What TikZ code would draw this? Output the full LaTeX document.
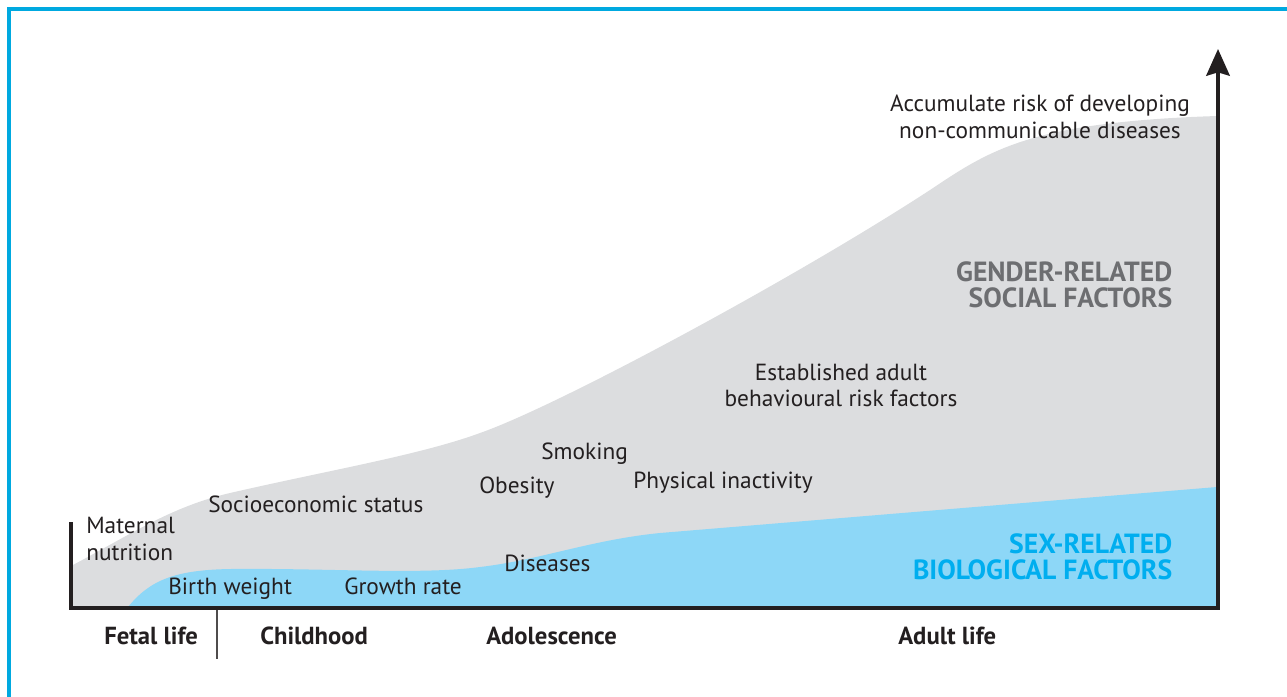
\documentclass[tikz,border=0pt]{standalone}
\usepackage{fontspec}
\setmainfont{PT Sans}
\usetikzlibrary{arrows.meta}
\definecolor{frameblue}{HTML}{00A9E0}
\definecolor{greyfill}{HTML}{DCDDDF}
\definecolor{bluefill}{HTML}{8DD7F7}
\definecolor{bluetext}{HTML}{00AEEF}
\definecolor{greytext}{HTML}{6D6E71}
\definecolor{ink}{HTML}{231F20}
\tikzset{
  lbl/.style={inner sep=0pt, text=ink, font=\fontsize{17.5}{20}\selectfont},
  stage/.style={inner sep=0pt, text=ink, font=\fontsize{18.5}{20}\selectfont\bfseries, anchor=base west},
  bigcap/.style={inner sep=0pt, font=\fontsize{20.8}{19.5}\selectfont\bfseries, align=right, anchor=base east},
  axis/.style={line width=3pt, draw=ink, line join=miter},
}
\begin{document}
\begin{tikzpicture}[x=0.75pt, y=-0.75pt]
\useasboundingbox (0,0) rectangle (1287,696);
% frame
\draw[frameblue, line width=3pt] (9.3,700) -- (9.3,9.3) -- (1292,9.3);
% grey area
\fill[greyfill] (71,607) -- (71,566)
  .. controls (130,535) and (170,507) .. (230,493)
  .. controls (330,470) and (420,455) .. (480,433)
  .. controls (560,405) and (800,275) .. (930,190)
  .. controls (990,150) and (1030,122) .. (1217,116)
  -- (1217,607) -- cycle;
% blue area
\fill[bluefill] (128,607)
  .. controls (150,580) and (175,570) .. (230,569)
  .. controls (330,568) and (420,575) .. (480,567)
  .. controls (540,560) and (590,540) .. (660,533)
  -- (1217,487) -- (1217,607) -- cycle;
% texts
\node[lbl, anchor=base, align=center] (acc) at (1040,138.3) {Accumulate risk of developing\\non-communicable diseases};
\node[bigcap, text=greytext] (gender) at (1172.5,307.7) {GENDER-RELATED\\SOCIAL FACTORS};
\node[bigcap, text=bluetext] (sex) at (1172.5,579.3) {SEX-RELATED\\BIOLOGICAL FACTORS};
\node[lbl, anchor=base, align=center] (est) at (841,406.7) {Established adult\\behavioural risk factors};
\node[lbl, anchor=base west] (smok) at (541,459) {Smoking};
\node[lbl, anchor=base west] (obes) at (479,493.5) {Obesity};
\node[lbl, anchor=base west] (phys) at (633,488) {Physical inactivity};
\node[lbl, anchor=base west] (socio) at (208,512) {Socioeconomic status};
\node[lbl, anchor=base west, align=left] (mat) at (86,560) {Maternal\\nutrition};
\node[lbl, anchor=base west] (birth) at (168,594.3) {Birth weight};
\node[lbl, anchor=base west] (growth) at (344,594.3) {Growth rate};
\node[lbl, anchor=base west] (dis) at (504,571) {Diseases};
\node[stage] (fetal) at (104,644) {Fetal life};
\node[stage] (child) at (260,644) {Childhood};
\node[stage] (adol) at (486,644) {Adolescence};
\node[stage] (adult) at (898,644) {Adult life};
% tick
\coordinate (t1) at (217,609);
\coordinate (t2) at (217,659);
\draw[ink!80, line width=0.9pt] (t1) -- (t2);
% axes
\coordinate (ytop) at (71,522);
\coordinate (origin) at (71,607.5);
\coordinate (xend) at (1218,607.5);
\coordinate (arrowtip) at (1218,49);
\draw[axis] (ytop) -- (origin) -- (xend) -- (1218,70);
\draw[axis, -{Stealth[length=20pt, width=17.5pt, inset=2.5pt]}] (1218,80) -- (arrowtip);
\end{tikzpicture}
\end{document}
